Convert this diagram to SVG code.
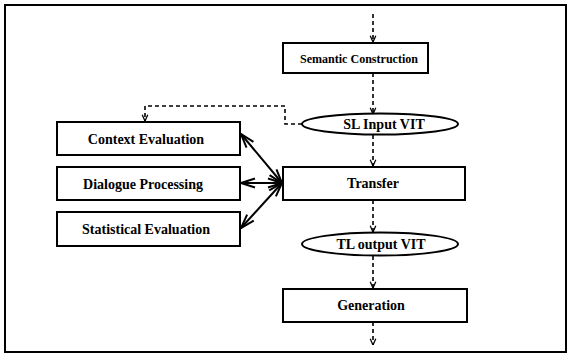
<svg xmlns="http://www.w3.org/2000/svg" width="570" height="357" viewBox="0 0 570 357">
<style>
.box{fill:#fff;stroke:#000;stroke-width:2}
.ell{fill:#fff;stroke:#000;stroke-width:2}
.lbl{font-family:"Liberation Serif","Times New Roman",serif;font-weight:bold;font-size:14px;fill:#000;text-anchor:middle}
.dash{fill:none;stroke:#000;stroke-width:1.6;stroke-dasharray:4 3}
.solid{fill:none;stroke:#000;stroke-width:2}
</style>
<defs>
<marker id="dv" viewBox="0 0 10 10" refX="10" refY="5" markerWidth="7" markerHeight="8" markerUnits="userSpaceOnUse" orient="auto">
<path d="M1,1 L10,5 L1,9" fill="none" stroke="#000" stroke-width="1.8"/>
</marker>
<marker id="sa" viewBox="0 0 16 12" refX="15" refY="6" markerWidth="16" markerHeight="12" markerUnits="userSpaceOnUse" orient="auto-start-reverse">
<path d="M1,1.5 L15,6 L1,10.5" fill="none" stroke="#000" stroke-width="2"/>
</marker>
</defs>
<rect x="5" y="5" width="561" height="347" fill="#fff" stroke="#000" stroke-width="2"/>
<g id="connectors">
<line class="dash" x1="373" y1="14" x2="373" y2="42" marker-end="url(#dv)"/>
<line class="dash" x1="373" y1="73" x2="373" y2="114" marker-end="url(#dv)"/>
<polyline class="dash" points="302,124 285,124 285,106 145,106 145,121" marker-end="url(#dv)"/>
<line class="dash" x1="373" y1="135" x2="373" y2="166" marker-end="url(#dv)"/>
<line class="dash" x1="373" y1="200" x2="373" y2="232" marker-end="url(#dv)"/>
<line class="dash" x1="373" y1="256" x2="373" y2="288" marker-end="url(#dv)"/>
<line class="dash" x1="373" y1="322" x2="373" y2="345" marker-end="url(#dv)"/>
<line class="solid" x1="241" y1="134" x2="282" y2="183" marker-start="url(#sa)" marker-end="url(#sa)"/>
<line class="solid" x1="241" y1="183" x2="282" y2="183" marker-start="url(#sa)" marker-end="url(#sa)"/>
<line class="solid" x1="241" y1="228" x2="282" y2="183" marker-start="url(#sa)" marker-end="url(#sa)"/>
</g>
<g id="semantic"><rect class="box" x="283" y="43" width="145" height="30"/><text class="lbl" x="359" y="63" style="font-size:13px" textLength="118" lengthAdjust="spacingAndGlyphs">Semantic Construction</text></g>
<g id="slinput"><ellipse class="ell" cx="380" cy="124" rx="78" ry="10.5"/><text class="lbl" x="384" y="129">SL Input VIT</text></g>
<g id="context"><rect class="box" x="57" y="122" width="183" height="33"/><text class="lbl" x="146" y="144">Context Evaluation</text></g>
<g id="dialogue"><rect class="box" x="57" y="167" width="183" height="33"/><text class="lbl" x="143" y="189">Dialogue Processing</text></g>
<g id="statistical"><rect class="box" x="57" y="212" width="183" height="34"/><text class="lbl" x="146" y="234">Statistical Evaluation</text></g>
<g id="transfer"><rect class="box" x="283" y="167" width="182" height="33"/><text class="lbl" x="373" y="188">Transfer</text></g>
<g id="tloutput"><ellipse class="ell" cx="380" cy="244" rx="78" ry="11.5"/><text class="lbl" x="381" y="249">TL output VIT</text></g>
<g id="generation"><rect class="box" x="283" y="289" width="184" height="33"/><text class="lbl" x="371" y="310">Generation</text></g>
</svg>
